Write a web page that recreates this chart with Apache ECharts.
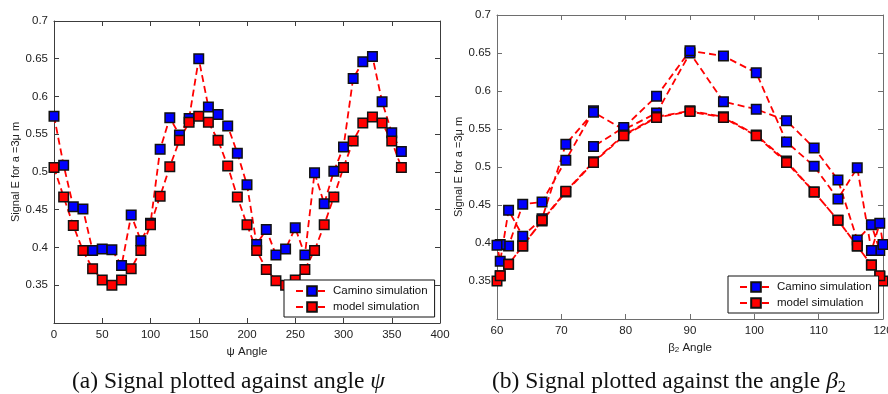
<!DOCTYPE html>
<html>
<head>
<meta charset="utf-8">
<script src="https://cdn.jsdelivr.net/npm/echarts@6/dist/echarts.min.js"></script>
<style>
html,body{margin:0;padding:0;background:#fff;overflow:hidden;}
#c{width:888px;height:394px;}
</style>
</head>
<body>
<div id="c"></div>
<script>
// psi angle (degrees) for each sample
const psiAngles = [0,10,20,30,40,50,60,70,80,90,100,110,120,130,140,150,160,170,180,190,200,210,220,230,240,250,260,270,280,290,300,310,320,330,340,350,360];
// beta2 angle (degrees) for each sample
const beta2Angles = [75,70.7,67.0,64.0,61.8,60.5,60,60.5,61.8,64.0,67.0,70.7,75,79.7,84.8,90,95.2,100.3,105,109.3,113.0,116.0,118.2,119.5,120,119.5,118.2,116.0,113.0,109.3,105,100.3,95.2,90,84.8,79.7,75];
// Camino simulation signal
const caminoSignal = [0.574,0.509,0.454,0.451,0.396,0.398,0.397,0.376,0.443,0.409,0.432,0.530,0.572,0.549,0.571,0.650,0.586,0.576,0.561,0.525,0.483,0.404,0.424,0.390,0.398,0.426,0.390,0.499,0.458,0.501,0.533,0.624,0.646,0.653,0.593,0.552,0.527];
// model simulation signal
const modelSignal = [0.506,0.467,0.429,0.396,0.372,0.357,0.350,0.357,0.372,0.396,0.430,0.468,0.507,0.542,0.566,0.574,0.566,0.542,0.508,0.467,0.430,0.396,0.371,0.356,0.350,0.357,0.371,0.396,0.430,0.467,0.506,0.541,0.565,0.573,0.565,0.541,0.506];

const seriesNames = ['Camino simulation','model simulation'];
const markerColors = ['#0000ff','#ff0000'];
const yTitle = 'Signal E for a =3\u03bc m';

const sans = '"Liberation Sans", Arial, sans-serif';
const serif = '"Liberation Serif", "Times New Roman", serif';
const frames = ['#3c3c3c', '#6e6e6e'];

function pair(xs, ys){ return xs.map((x,i)=>[x, ys[i]]); }

function mainX(grid, min, max, interval, name, rich){
  const frame = frames[grid];
  return {
    gridIndex: grid, type:'value', min, max, interval, position:'bottom',
    axisLine:{show:true, onZero:false, lineStyle:{color:frame, width:1}},
    axisTick:{show:true, inside:true, length:5, lineStyle:{color:frame}},
    axisLabel:{show:true, margin:6, fontSize:11.5, fontFamily:sans, color:'#222', hideOverlap:false},
    splitLine:{show:false},
    name, nameLocation:'middle', nameGap:21,
    nameTextStyle:{fontSize:11.5, fontFamily:sans, color:'#222', rich: rich}
  };
}
function mirrorX(grid, min, max, interval){
  const frame = frames[grid];
  return {
    gridIndex: grid, type:'value', min, max, interval, position:'top',
    axisLine:{show:true, onZero:false, lineStyle:{color:frame, width:1}},
    axisTick:{show:true, inside:true, length:5, lineStyle:{color:frame}},
    axisLabel:{show:false}, splitLine:{show:false}
  };
}
function mainY(grid){
  const frame = frames[grid];
  return {
    gridIndex: grid, type:'value', min:0.3, max:0.7, interval:0.05, position:'left',
    axisLine:{show:true, onZero:false, lineStyle:{color:frame, width:1}},
    axisTick:{show:true, inside:true, length:5, lineStyle:{color:frame}},
    axisLabel:{show:true, margin:6, fontSize:11.5, fontFamily:sans, color:'#222', showMinLabel:false},
    splitLine:{show:false},
    name: yTitle, nameLocation:'middle', nameRotate:90, nameGap:33,
    nameTextStyle:{fontSize:11, fontFamily:sans, color:'#222'}
  };
}
function mirrorY(grid){
  const frame = frames[grid];
  return {
    gridIndex: grid, type:'value', min:0.3, max:0.7, interval:0.05, position:'right',
    axisLine:{show:true, onZero:false, lineStyle:{color:frame, width:1}},
    axisTick:{show:true, inside:true, length:5, lineStyle:{color:frame}},
    axisLabel:{show:false}, splitLine:{show:false}
  };
}
function mkSeries(name, color, xi, yi, data){
  return {
    type:'line', name, xAxisIndex:xi, yAxisIndex:yi, data,
    symbol:'rect', symbolSize:9.5, clip:false,
    lineStyle:{color:'#ff0000', width:1.8, type:[7,4]},
    itemStyle:{color:color, borderColor:'#111', borderWidth:1.5},
    emphasis:{disabled:true}, animation:false
  };
}

const legendBase = {
  orient:'vertical', itemWidth:32, itemHeight:12, itemGap:4,
  padding:[5,7,4,11], backgroundColor:'#fff', borderColor:'#111', borderWidth:1, borderRadius:0,
  textStyle:{fontSize:11.5, fontFamily:sans, color:'#111'},
  data: seriesNames, selectedMode:false
};

const chart = echarts.init(document.getElementById('c'), null, {renderer:'canvas'});
chart.setOption({
  animation:false,
  backgroundColor:'#fff',
  grid:[
    {left:54, right:448, top:21, bottom:71, containLabel:false, outerBoundsMode:'none'},
    {left:497, right:5, top:15, bottom:75, containLabel:false, outerBoundsMode:'none'}
  ],
  xAxis:[
    mainX(0, 0, 400, 50, '\u03c8 Angle'),
    mirrorX(0, 0, 400, 50),
    mainX(1, 60, 120, 10, '\u03b2{s|2} Angle', {s:{fontSize:8, fontFamily:sans, color:'#222', verticalAlign:'bottom', lineHeight:6}}),
    mirrorX(1, 60, 120, 10)
  ],
  yAxis:[ mainY(0), mirrorY(0), mainY(1), mirrorY(1) ],
  legend:[
    Object.assign({}, legendBase, {left:284, top:280}),
    Object.assign({}, legendBase, {left:728, top:276})
  ],
  title:[
    {text:'(a) Signal plotted against angle {i|\u03c8}', left:72, top:368, padding:0,
     textStyle:{fontSize:23.5, fontFamily:serif, fontWeight:'normal', color:'#111', lineHeight:28,
       rich:{i:{fontSize:23.5, fontFamily:serif, fontStyle:'italic', color:'#111', lineHeight:28}}}},
    {text:'(b) Signal plotted against the angle {i|\u03b2}{s|2}', left:492, top:368, padding:0,
     textStyle:{fontSize:23.5, fontFamily:serif, fontWeight:'normal', color:'#111', lineHeight:28,
       rich:{i:{fontSize:23.5, fontFamily:serif, fontStyle:'italic', color:'#111', lineHeight:28},
             s:{fontSize:16, fontFamily:serif, color:'#111', verticalAlign:'bottom', lineHeight:14}}}}
  ],
  series:[
    mkSeries(seriesNames[0], markerColors[0], 0, 0, pair(psiAngles, caminoSignal)),
    mkSeries(seriesNames[1], markerColors[1], 0, 0, pair(psiAngles, modelSignal)),
    mkSeries(seriesNames[0], markerColors[0], 2, 2, pair(beta2Angles, caminoSignal)),
    mkSeries(seriesNames[1], markerColors[1], 2, 2, pair(beta2Angles, modelSignal))
  ]
});
</script>
</body>
</html>
